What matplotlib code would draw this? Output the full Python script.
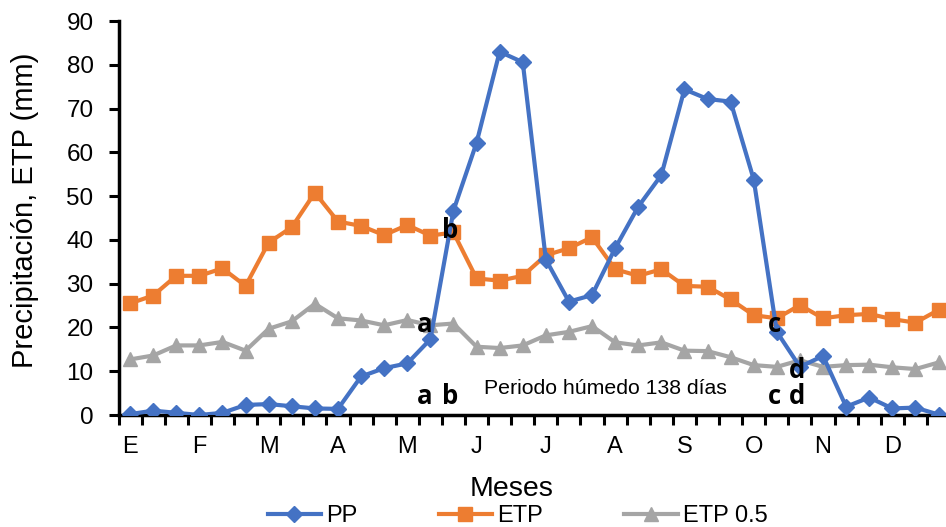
import numpy as np
import matplotlib
matplotlib.use("Agg")
import matplotlib.pyplot as plt

# decadal values (3 per month)
meses = ["E", "F", "M", "A", "M", "J", "J", "A", "S", "O", "N", "D"]

pp = [0.2, 1.0, 0.5, 0.0, 0.5, 2.3, 2.5, 2.0, 1.5, 1.4,
      8.8, 10.7, 11.8, 17.3, 46.7, 62.2, 83.0, 80.6, 35.5, 25.9,
      27.4, 38.1, 47.6, 54.8, 74.4, 72.2, 71.6, 53.8, 19.0, 11.0,
      13.5, 1.9, 4.0, 1.5, 1.7, 0.1]

etp = [25.5, 27.3, 31.8, 31.8, 33.5, 29.5, 39.4, 42.9, 50.8, 44.2,
       43.2, 41.1, 43.4, 41.0, 41.7, 31.2, 30.7, 31.8, 36.5, 38.1,
       40.6, 33.3, 31.8, 33.3, 29.5, 29.3, 26.4, 22.8, 22.1, 25.1,
       22.1, 22.8, 23.1, 21.9, 21.1, 24.0]

etp05 = [12.7, 13.6, 15.9, 15.9, 16.7, 14.7, 19.7, 21.4, 25.4, 22.1,
         21.6, 20.5, 21.7, 20.5, 20.9, 15.6, 15.3, 15.9, 18.2, 19.0,
         20.3, 16.6, 15.9, 16.6, 14.7, 14.6, 13.2, 11.4, 11.0, 12.5,
         11.0, 11.4, 11.5, 10.9, 10.5, 12.0]

plt.rcParams["font.family"] = ["Liberation Sans", "DejaVu Sans"]

fig = plt.figure(figsize=(9.46, 5.27), dpi=100)
ax = fig.add_axes([0.1253, 0.2125, 0.879, 0.7475])

x = np.arange(len(pp))
ax.plot(x, pp, color="#4472C4", lw=3, marker="D", ms=8, label="PP", zorder=4)
ax.plot(x, etp, color="#ED7D31", lw=3, marker="s", ms=9.5, label="ETP", zorder=3)
ax.plot(x, etp05, color="#A5A5A5", lw=3, marker="^", ms=10, label="ETP 0.5", zorder=2)

ax.set_xlim(-0.5, 35.5)
ax.set_ylim(0, 90)
ax.set_yticks(np.arange(0, 91, 10))

# ticks between categories, month labels every 3 points
ax.set_xticks(np.arange(-0.5, 36, 1))
ax.set_xticklabels([])
ax.set_xticks(np.arange(0, 36, 3), minor=True)
ax.set_xticklabels(meses, minor=True)
ax.tick_params(axis="x", which="major", direction="out", length=7, width=2.2)
ax.tick_params(axis="x", which="minor", length=0, pad=15, labelsize=17)
ax.tick_params(axis="y", direction="out", length=7, width=2.2, labelsize=17.5, pad=11)

for s in ["top", "right"]:
    ax.spines[s].set_visible(False)
for s in ["left", "bottom"]:
    ax.spines[s].set_linewidth(2.5)

ax.set_ylabel("Precipitación, ETP (mm)", fontsize=21)
ax.yaxis.set_label_coords(-0.0956, 0.52)
ax.set_xlabel("Meses", fontsize=20.5)
ax.xaxis.set_label_coords(0.473, -0.155)

bold = dict(fontsize=18.5, fontweight="bold", family=["Open Sans", "DejaVu Sans"],
            ha="center", va="baseline", zorder=6)
ax.text(12.75, 19.0, "a", **bold)
ax.text(13.86, 40.4, "b", **bold)
ax.text(12.75, 2.6, "a", **bold)
ax.text(13.84, 2.6, "b", **bold)
ax.text(27.9, 19.0, "c", **bold)
ax.text(28.86, 8.4, "d", **bold)
ax.text(27.9, 2.6, "c", **bold)
ax.text(28.86, 2.6, "d", **bold)
ax.text(20.6, 4.9, "Periodo húmedo 138 días", fontsize=15.3, ha="center", va="baseline")

fig.legend(loc="center", bbox_to_anchor=(0.547, 0.021), ncol=3, frameon=False,
           fontsize=17, handlelength=2.27, handletextpad=0.2, columnspacing=3.45,
           borderaxespad=0)

fig.savefig("out.png", dpi=100)
